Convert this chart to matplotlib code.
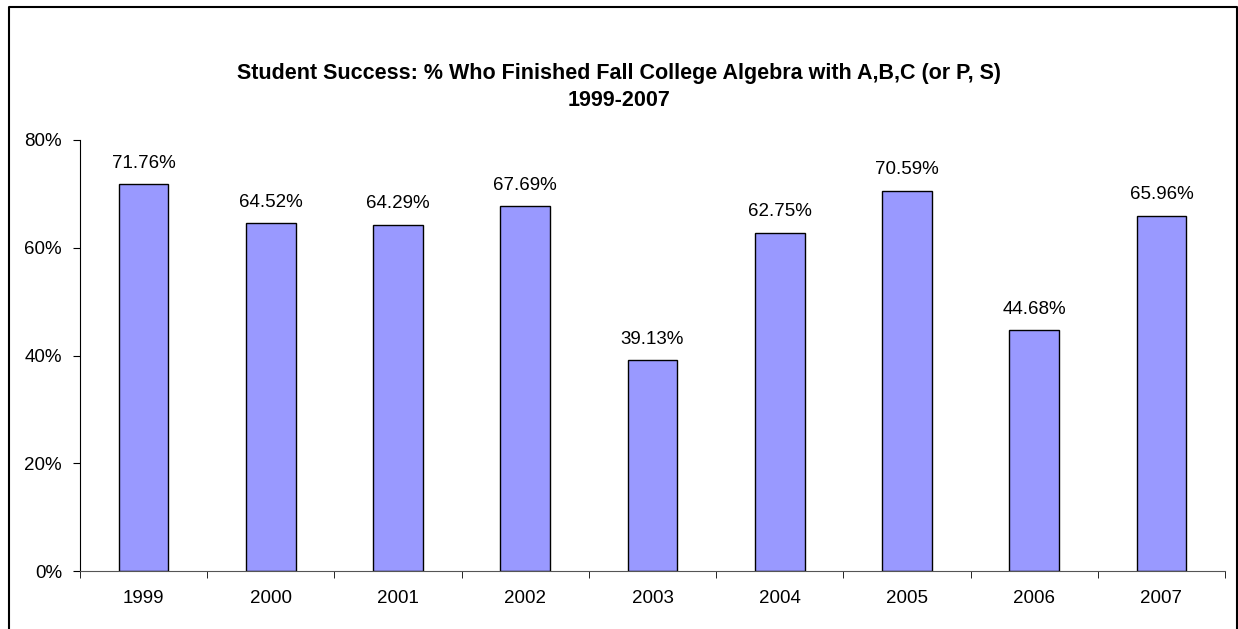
import matplotlib.pyplot as plt
from matplotlib.lines import Line2D
from matplotlib.ticker import FuncFormatter

years = ['1999', '2000', '2001', '2002', '2003', '2004', '2005', '2006', '2007']
success = [71.76, 64.52, 64.29, 67.69, 39.13, 62.75, 70.59, 44.68, 65.96]

plt.rcParams['font.family'] = ['Liberation Sans', 'DejaVu Sans']

W, H = 1238, 629
fig = plt.figure(figsize=(W / 100, H / 100), dpi=100)
ax = fig.add_axes([80 / W, 1 - 571 / H, (1225 - 80) / W, (571 - 140) / H])

x = list(range(len(years)))
ax.bar(x, success, width=0.39, color='#9999FF', edgecolor='black', linewidth=1)
for xi, v in zip(x, success):
    ax.annotate(f'{v:.2f}%', (xi, v), xytext=(0, 9), textcoords='offset points',
                ha='center', va='bottom', fontsize=13.5)

ax.set_xlim(-0.5, len(years) - 0.5)
ax.set_ylim(0, 80)
ax.set_yticks([0, 20, 40, 60, 80])
ax.yaxis.set_major_formatter(FuncFormatter(lambda v, p: f'{v:.0f}%'))
ax.set_xticks(x)
ax.set_xticklabels(years)
ax.set_xticks([i + 0.5 for i in range(-1, len(years))], minor=True)
ax.tick_params(axis='x', which='major', length=0, pad=14, labelsize=13.5)
ax.tick_params(axis='x', which='minor', length=5, direction='out', color='black')
ax.tick_params(axis='y', length=5, direction='out', labelsize=13.5, pad=8)

for s in ['top', 'right']:
    ax.spines[s].set_visible(False)
ax.spines['left'].set_color('black')
ax.spines['bottom'].set_color('#555555')

fig.text(0.5, 1 - 73 / H, 'Student Success: % Who Finished Fall College Algebra with A,B,C (or P, S)',
         ha='center', va='center', fontsize=15.5, fontweight='bold')
fig.text(0.5, 1 - 100 / H, '1999-2007',
         ha='center', va='center', fontsize=15.5, fontweight='bold')

# outer chart border (left, top, right)
lx, rx, ty = 8.5 / W, 1236.5 / W, 1 - 6.5 / H
fig.add_artist(Line2D([lx, lx, rx, rx], [0, ty, ty, 0], color='black', linewidth=1.5,
                      transform=fig.transFigure))

fig.savefig('out.png', dpi=100)
